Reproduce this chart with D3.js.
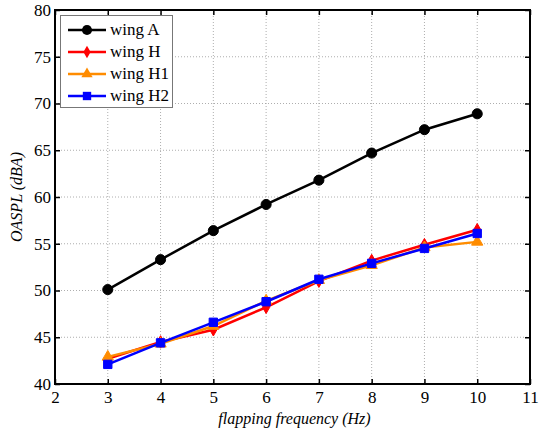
<!DOCTYPE html>
<html><head><meta charset="utf-8">
<script src="https://cdn.jsdelivr.net/npm/d3@7"></script>
<style>body{margin:0;background:#fff}svg{display:block}text{font-family:'Liberation Serif','DejaVu Serif',serif}</style>
</head><body>
<svg id="c" width="540" height="433"></svg>
<script>
const freq = [3, 4, 5, 6, 7, 8, 9, 10];
const wingA  = [50.1, 53.3, 56.4, 59.2, 61.8, 64.7, 67.2, 68.9];
const wingH  = [42.7, 44.5, 45.8, 48.2, 51.0, 53.2, 54.9, 56.5];
const wingH1 = [42.9, 44.3, 46.2, 48.9, 51.1, 52.7, 54.6, 55.2];
const wingH2 = [42.1, 44.4, 46.6, 48.8, 51.2, 52.9, 54.5, 56.1];
const seriesNames = ["wing A", "wing H", "wing H1", "wing H2"];
const xTicks = [2, 3, 4, 5, 6, 7, 8, 9, 10, 11];
const yTicks = [40, 45, 50, 55, 60, 65, 70, 75, 80];

const series = [
  {name: seriesNames[0], values: wingA,  color: "#000000", sym: d3.symbolCircle,   size: 80},
  {name: seriesNames[1], values: wingH,  color: "#ff0000", sym: d3.symbolDiamond,  size: 45},
  {name: seriesNames[2], values: wingH1, color: "#ff8c00", sym: d3.symbolTriangle, size: 55},
  {name: seriesNames[3], values: wingH2, color: "#0000ff", sym: d3.symbolSquare,   size: 70}
];

const svg = d3.select("#c");
const L = 55, R = 530, T = 10, B = 384;
const x = d3.scaleLinear().domain([2, 11]).range([L, R]);
const y = d3.scaleLinear().domain([40, 80]).range([B, T]);
const font = "'Liberation Serif', 'DejaVu Serif', serif";

// grid
const g = svg.append("g");
g.selectAll(".gx").data(xTicks.slice(1, -1)).join("line")
  .attr("x1", d => x(d)).attr("x2", d => x(d)).attr("y1", T).attr("y2", B)
  .attr("stroke", "#999").attr("stroke-width", 0.8).attr("stroke-dasharray", "1,2");
g.selectAll(".gy").data(yTicks.slice(1, -1)).join("line")
  .attr("y1", d => y(d)).attr("y2", d => y(d)).attr("x1", L).attr("x2", R)
  .attr("stroke", "#999").attr("stroke-width", 0.8).attr("stroke-dasharray", "1,2");

// axes (ticks inward)
const ax = d3.axisBottom(x).tickValues(xTicks).tickSize(-5).tickPadding(7).tickFormat(d3.format("d"));
const ay = d3.axisLeft(y).tickValues(yTicks).tickSize(-5).tickPadding(4).tickFormat(d3.format("d"));
const axT = d3.axisTop(x).tickValues(xTicks).tickSize(-5).tickFormat("");
const ayR = d3.axisRight(y).tickValues(yTicks).tickSize(-5).tickFormat("");
function style(sel) {
  sel.select(".domain").remove();
  sel.selectAll("line").attr("stroke", "#000").attr("stroke-width", 1.5);
  sel.selectAll("text").attr("font-family", font).attr("font-size", 17).attr("fill", "#000");
}
svg.append("g").attr("transform", `translate(0,${B})`).call(ax).call(style);
svg.append("g").attr("transform", `translate(${L},0)`).call(ay).call(style);
svg.append("g").attr("transform", `translate(0,${T})`).call(axT).call(style);
svg.append("g").attr("transform", `translate(${R},0)`).call(ayR).call(style);

svg.append("rect").attr("x", L).attr("y", T).attr("width", R - L).attr("height", B - T)
  .attr("fill", "none").attr("stroke", "#000").attr("stroke-width", 2);

// lines
const line = d3.line().x((d, i) => x(freq[i])).y(d => y(d));
series.forEach(s => {
  svg.append("path").datum(s.values).attr("d", line)
    .attr("fill", "none").attr("stroke", s.color).attr("stroke-width", 2.5);
  svg.append("g").selectAll("path").data(s.values).join("path")
    .attr("transform", (d, i) => `translate(${x(freq[i])},${y(d)})`)
    .attr("d", d3.symbol().type(s.sym).size(s.size))
    .attr("fill", s.color).attr("stroke", s.color);
});

// legend
const lg = svg.append("g");
lg.append("rect").attr("x", 60.5).attr("y", 15.5).attr("width", 112).attr("height", 92)
  .attr("fill", "#fff").attr("stroke", "#777").attr("stroke-width", 1);
series.forEach((s, i) => {
  const yy = 30 + i * 22;
  lg.append("line").attr("x1", 68).attr("x2", 106).attr("y1", yy).attr("y2", yy)
    .attr("stroke", s.color).attr("stroke-width", 2.5);
  lg.append("path").attr("transform", `translate(87,${yy})`)
    .attr("d", d3.symbol().type(s.sym).size(s.size)).attr("fill", s.color);
  lg.append("text").attr("x", 110).attr("y", yy + 5).text(s.name)
    .attr("font-family", font).attr("font-size", 17).attr("fill", "#000");
});

// axis titles
svg.append("text").attr("x", (L + R) / 2 + 2).attr("y", 424).attr("text-anchor", "middle")
  .attr("font-family", font).attr("font-style", "italic").attr("font-size", 16)
  .text("flapping frequency (Hz)");
svg.append("text").attr("transform", `translate(22,${(T + B) / 2}) rotate(-90)`)
  .attr("text-anchor", "middle").attr("font-family", font).attr("font-style", "italic")
  .attr("font-size", 16).text("OASPL (dBA)");
</script>
</body></html>
